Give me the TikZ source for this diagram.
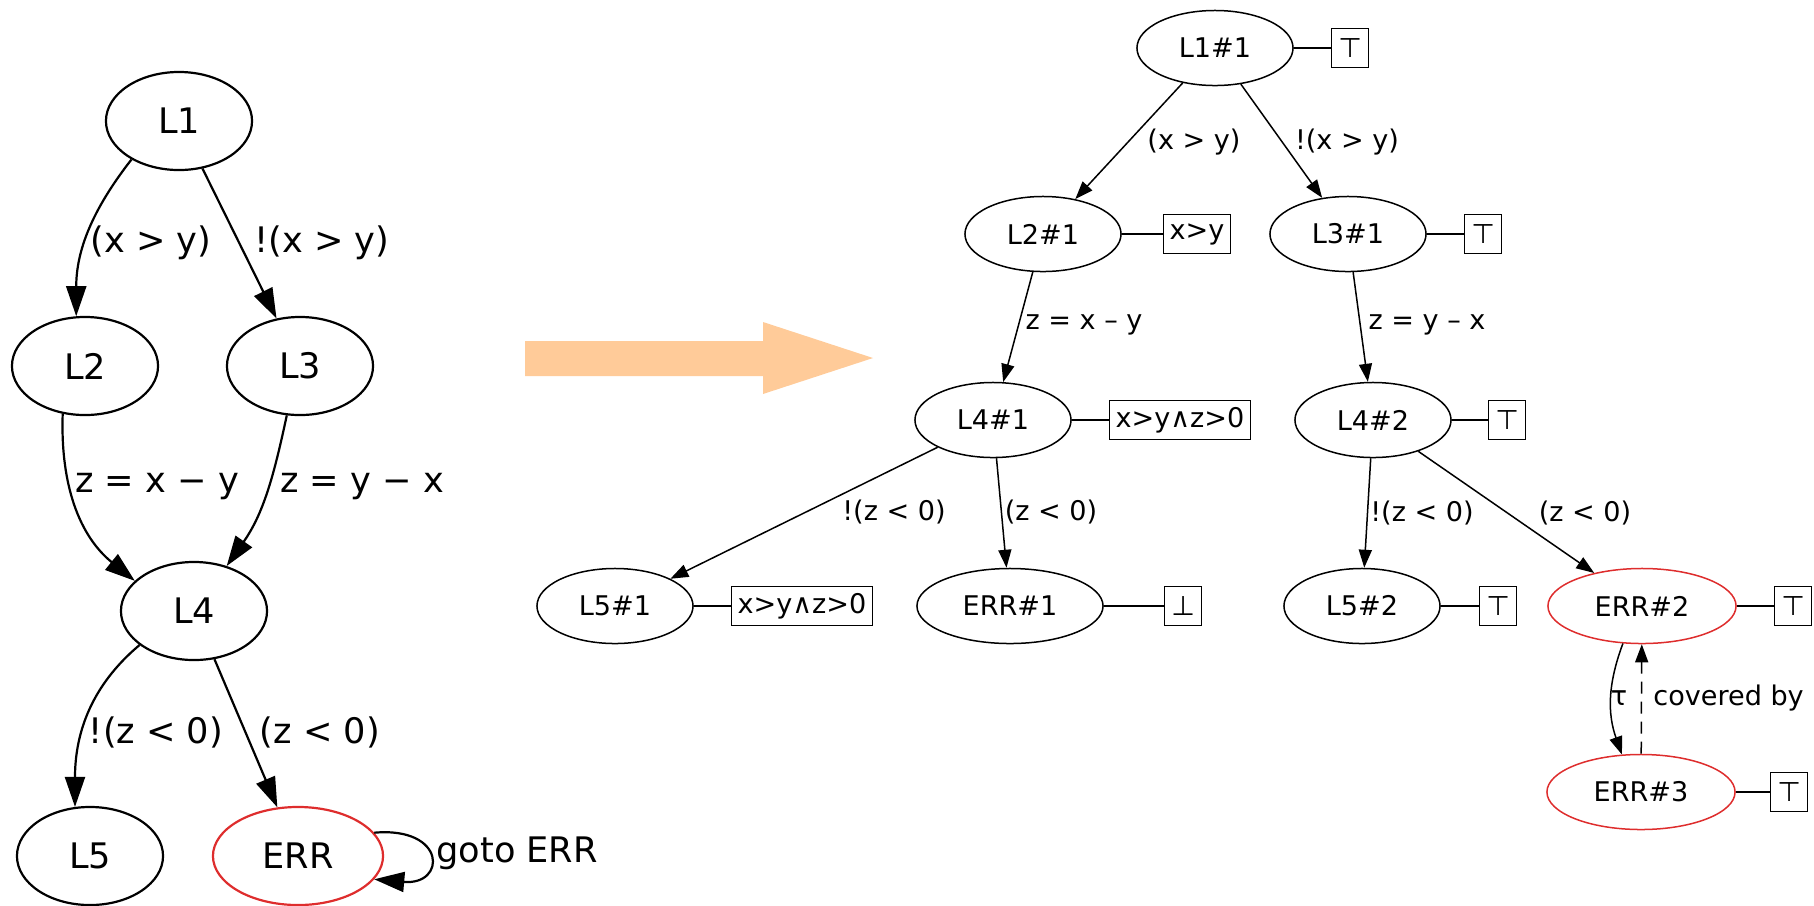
\documentclass[tikz,border=0pt]{standalone}
\usepackage{fontspec}
\setmainfont{DejaVu Sans}
\usetikzlibrary{arrows.meta,positioning,shapes.geometric}
\definecolor{errred}{RGB}{222,45,45}
\definecolor{peach}{RGB}{255,203,153}
\tikzset{
    cfa node/.style = {
        ellipse,
        draw,
        line width = 0.022cm,
        minimum width = 1.46cm,
        minimum height = 0.98cm,
        inner sep = 0pt,
        font = \fontsize{10}{12}\selectfont,
        },
    cfa edge/.style = {
        line width = 0.022cm,
        -{Triangle[length=0.3cm, width=0.2cm]},
        },
    cfa label/.style = {
        font = \fontsize{10}{12}\selectfont,
        },
    art node/.style = {
        ellipse,
        draw,
        line width = 0.015cm,
        minimum width = 1.56cm,
        minimum height = 0.75cm,
        inner sep = 0pt,
        font = \fontsize{7.7}{9}\selectfont,
        },
    art edge/.style = {
        line width = 0.015cm,
        -{Triangle[length=0.18cm, width=0.13cm]},
        },
    art label/.style = {
        font = \fontsize{7.7}{9}\selectfont,
        },
    error loc/.style = {
        draw = errred,
        minimum width = 1.88cm,
        },
    itp box/.style = {
        draw,
        line width = 0.015cm,
        minimum width = 0.37cm,
        minimum height = 0.39cm,
        inner xsep = 0.06cm,
        inner ysep = 0.03cm,
        font = \fontsize{7.7}{9}\selectfont,
        },
    itp link/.style = {
        line width = 0.015cm,
        },
}

\begin{document}
\begin{tikzpicture}[x=0.01cm, y=-0.01cm]
    \useasboundingbox (0,0) rectangle (1814,905);

    % control flow automaton
    \node [cfa node] (n1) at (179,121) {L1};
    \node [cfa node] (n2) at (85,366) {L2};
    \node [cfa node] (n3) at (300,366) {L3};
    \node [cfa node] (n4) at (194,611) {L4};
    \node [cfa node] (n5) at (90,856) {L5};
    \node [cfa node, error loc, minimum width=1.70cm] (nerr) at (298,856) {ERR};

    \draw[cfa edge] (n1.-141) [out=-128, in=90] to (n2.100);
    \draw[cfa edge] (n1) -- (n3);
    \draw[cfa edge] (n2.-115) [out=-92, in=141] to (n4.153);
    \draw[cfa edge] (n3.-105) [out=-102, in=55] to (n4.54);
    \draw[cfa edge] (n4.-148) [out=-140, in=90] to (n5.107);
    \draw[cfa edge] (n4) -- (nerr);
    \draw[cfa edge] (nerr.17) [out=5, in=-5, looseness=4] to (nerr.-17);

    \node [cfa label] (c12) at (151,243) {(x > y)};
    \node [cfa label] (c13) at (322,243) {!(x > y)};
    \node [cfa label] (c24) at (157,487) {z = x − y};
    \node [cfa label] (c34) at (362,487) {z = y − x};
    \node [cfa label] (c45) at (156,732) {!(z < 0)};
    \node [cfa label] (c4e) at (320,732) {(z < 0)};
    \node [cfa label, anchor=west] (cee) at (424,853) {goto ERR};

    % the big arrow
    \fill[peach] (525,341) -- (763,341) -- (763,322) -- (873,358) -- (763,394) -- (763,376) -- (525,376) -- cycle;

    % abstract reachability tree
    \node [art node] (l11) at (1215,48) {L1\#1};
    \node [art node] (l21) at (1043,234) {L2\#1};
    \node [art node] (l31) at (1348,234) {L3\#1};
    \node [art node] (l41) at (993,420) {L4\#1};
    \node [art node] (l42) at (1373,420) {L4\#2};
    \node [art node] (l51) at (615,606) {L5\#1};
    \node [art node, error loc, draw=black, minimum width=1.86cm] (err1) at (1010,606) {ERR\#1};
    \node [art node] (l52) at (1362,606) {L5\#2};
    \node [art node, error loc] (err2) at (1642,606) {ERR\#2};
    \node [art node, error loc] (err3) at (1641,792) {ERR\#3};

    \node [itp box, right=0.37cm of l11] (t11) {⊤};
    \node [itp box, right=0.41cm of l21] (b21) {x>y};
    \node [itp box, right=0.37cm of l31] (t31) {⊤};
    \node [itp box, right=0.37cm of l41] (b41) {x>y∧z>0};
    \node [itp box, right=0.36cm of l42] (t42) {⊤};
    \node [itp box, right=0.37cm of l51] (b51) {x>y∧z>0};
    \node [itp box, right=0.60cm of err1] (f1) {⊥};
    \node [itp box, right=0.38cm of l52] (t52) {⊤};
    \node [itp box, right=0.37cm of err2] (t2) {⊤};
    \node [itp box, right=0.34cm of err3] (t3) {⊤};

    \draw[itp link] (l11) -- (t11);
    \draw[itp link] (l21) -- (b21);
    \draw[itp link] (l31) -- (t31);
    \draw[itp link] (l41) -- (b41);
    \draw[itp link] (l42) -- (t42);
    \draw[itp link] (l51) -- (b51);
    \draw[itp link] (err1) -- (f1);
    \draw[itp link] (l52) -- (t52);
    \draw[itp link] (err2) -- (t2);
    \draw[itp link] (err3) -- (t3);

    \draw[art edge] (l11) -- (l21);
    \draw[art edge] (l11) -- (l31);
    \draw[art edge] (l21) -- (l41);
    \draw[art edge] (l31) -- (l42);
    \draw[art edge] (l41) -- (l51);
    \draw[art edge] (l41) -- (err1);
    \draw[art edge] (l42) -- (l52);
    \draw[art edge] (l42) -- (err2);
    \draw[art edge] (err2.-117) [bend right=20] to (err3.117);
    \draw[art edge, dash pattern=on 0.12cm off 0.08cm] (err3) -- (err2);

    \node [art label] (a12) at (1194,142) {(x > y)};
    \node [art label] (a13) at (1347,142) {!(x > y)};
    \node [art label] (a24) at (1084,325) {z = x – y};
    \node [art label] (a34) at (1427,325) {z = y – x};
    \node [art label] (a45) at (894,512) {!(z < 0)};
    \node [art label] (a4e) at (1051,512) {(z < 0)};
    \node [art label] (b45) at (1422,513) {!(z < 0)};
    \node [art label] (b4e) at (1585,513) {(z < 0)};
    \node [art label] (tau) at (1619,698) {τ};
    \node [art label, anchor=west] (cov) at (1641,698) {covered by};
\end{tikzpicture}
\end{document}
